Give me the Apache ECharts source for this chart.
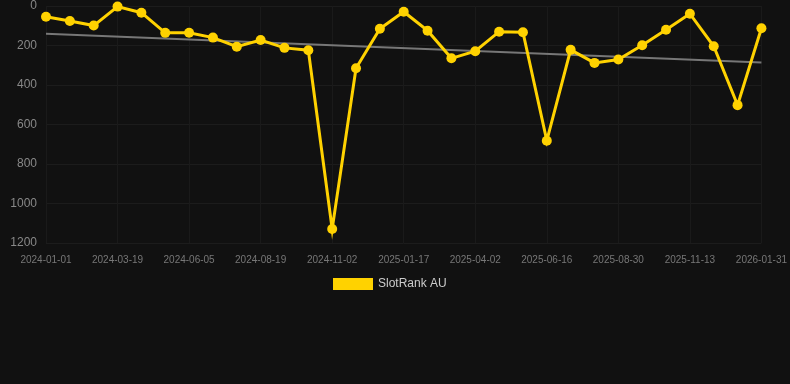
<!DOCTYPE html>
<html>
<head>
<meta charset="utf-8">
<script src="https://cdn.jsdelivr.net/npm/echarts@6/dist/echarts.min.js"></script>
<style>
    html, body { margin: 0; padding: 0; background: #111111; }
    #rankChart { width: 790px; height: 384px; }
</style>
</head>
<body>
<div id="rankChart"></div>
<script>
var dates = ['2024-01-01', '2024-01-27', '2024-02-22', '2024-03-19', '2024-04-14', '2024-05-10',
    '2024-06-05', '2024-06-30', '2024-07-25', '2024-08-19', '2024-09-13', '2024-10-08',
    '2024-11-02', '2024-11-27', '2024-12-22', '2025-01-17', '2025-02-11', '2025-03-08',
    '2025-04-02', '2025-04-27', '2025-05-22', '2025-06-16', '2025-07-11', '2025-08-05',
    '2025-08-30', '2025-09-24', '2025-10-19', '2025-11-13', '2025-12-08', '2026-01-05',
    '2026-01-31'];
var rankAU = [54, 76, 99, 3, 34, 136, 135, 160, 206, 172, 212, 224, 1129, 315, 115,
    29, 125, 265, 229, 130, 133, 682, 222, 288, 271, 199, 120, 39, 204, 502, 113];
var trendEnds = [140, 286];

var rankChart = echarts.init(document.getElementById('rankChart'));
var option = {
    backgroundColor: '#111111',
    animation: false,
    grid: {
        left: 46,
        right: 28,
        top: 6,
        bottom: 141
    },
    legend: {
        data: ['SlotRank AU'],
        top: 273,
        left: 328,
        itemWidth: 40,
        itemHeight: 12,
        itemGap: 6,
        icon: 'rect',
        textStyle: {
            color: '#cccccc',
            fontSize: 12
        }
    },
    xAxis: {
        type: 'category',
        boundaryGap: false,
        data: dates,
        axisLine: { show: false },
        axisTick: { show: false },
        axisLabel: {
            interval: 2,
            color: '#777777',
            fontSize: 10,
            margin: 12
        },
        splitLine: {
            show: true,
            interval: 2,
            lineStyle: { color: '#1a1a1a' }
        }
    },
    yAxis: {
        type: 'value',
        inverse: true,
        min: 0,
        max: 1200,
        interval: 200,
        axisLine: { show: false },
        axisTick: { show: false },
        axisLabel: {
            color: '#888888',
            fontSize: 12,
            margin: 9,
            formatter: function (v) { return String(v); }
        },
        splitLine: {
            lineStyle: { color: '#1c1c1c' }
        }
    },
    series: [
        {
            name: 'SlotRank AU',
            type: 'line',
            data: rankAU,
            symbol: 'circle',
            symbolSize: 10,
            color: '#ffd200',
            lineStyle: { color: '#ffd200', width: 3, join: 'miter' },
            itemStyle: { color: '#ffd200' },
            z: 3
        },
        {
            name: 'trend',
            type: 'line',
            data: [[dates[0], trendEnds[0]], [dates[dates.length - 1], trendEnds[1]]],
            symbol: 'none',
            lineStyle: { color: '#777777', width: 2 },
            z: 2
        }
    ]
};
rankChart.setOption(option);
</script>
</body>
</html>
